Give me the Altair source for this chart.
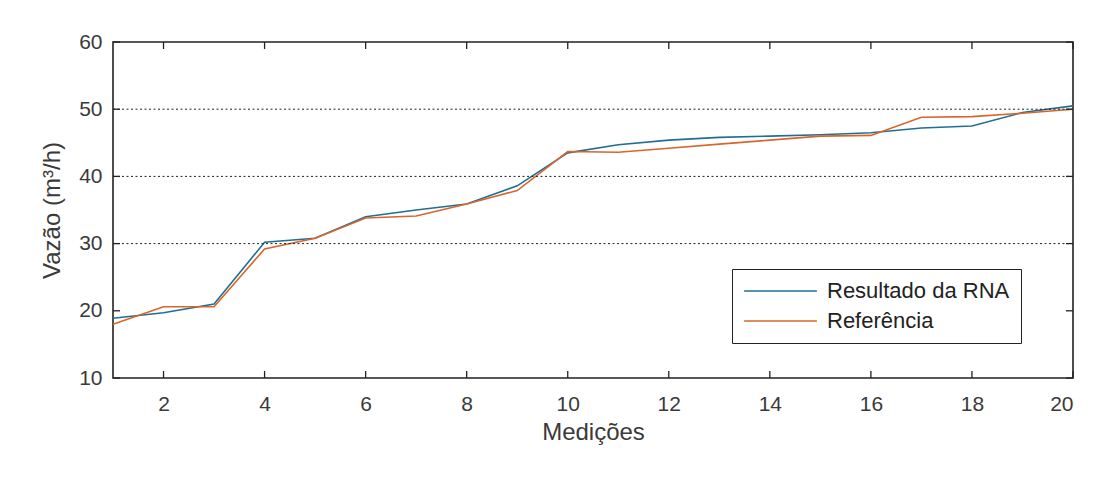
import altair as alt
import pandas as pd

medicoes = list(range(1, 21))
rna = [18.9, 19.7, 21.0, 30.2, 30.8, 34.0, 35.0, 35.9, 38.6, 43.5,
       44.7, 45.4, 45.8, 46.0, 46.2, 46.5, 47.2, 47.5, 49.5, 50.5]
referencia = [18.0, 20.6, 20.6, 29.2, 30.8, 33.8, 34.1, 35.9, 37.9, 43.7,
              43.6, 44.2, 44.8, 45.4, 46.0, 46.1, 48.8, 48.9, 49.4, 50.0]
series_names = ["Resultado da RNA", "Referência"]
series_colors = ["#1f6f94", "#d9652b"]
x_ticks = [2, 4, 6, 8, 10, 12, 14, 16, 18, 20]
y_ticks = [10, 20, 30, 40, 50, 60]
grid_levels = [30, 40, 50]

W, H = 960, 336
FONT = "Liberation Sans"
TXT = "#3a3a3a"

df = pd.DataFrame({
    "x": medicoes * 2,
    "y": rna + referencia,
    "s": [series_names[0]] * 20 + [series_names[1]] * 20,
})

xs = alt.Scale(domain=[1, 20], nice=False, zero=False)
ys = alt.Scale(domain=[10, 60], nice=False, zero=False)

AX = alt.Axis(values=x_ticks, ticks=False, tickSize=0, domain=False, grid=False,
              labelFontSize=21, labelPadding=15, labelColor=TXT,
              labelFont=FONT, titleFont=FONT, titleFontSize=24,
              titleFontWeight="normal", titleColor=TXT, titlePadding=6)
AY = alt.Axis(values=y_ticks, ticks=False, tickSize=0, domain=False, grid=False,
              labelFontSize=21, labelPadding=11, labelColor=TXT,
              labelFont=FONT, titleFont=FONT, titleFontSize=24,
              titleFontWeight="normal", titleColor=TXT, titlePadding=14)
XT = "Medições"
YT = "Vazão (m³/h)"

lines = alt.Chart(df).mark_line(strokeWidth=1.6).encode(
    x=alt.X("x:Q", scale=xs, title=XT, axis=AX),
    y=alt.Y("y:Q", scale=ys, title=YT, axis=AY),
    color=alt.Color("s:N", scale=alt.Scale(domain=series_names, range=series_colors),
                    sort=series_names, title=None,
                    legend=alt.Legend(orient="none", legendX=619, legendY=227,
                                      symbolType="stroke", symbolSize=5300,
                                      symbolStrokeWidth=1.6, clipHeight=22,
                                      labelFontSize=22, labelFont=FONT, labelColor="#222",
                                      strokeColor="#222", fillColor="white",
                                      padding=11, rowPadding=8, labelOffset=9,
                                      labelLimit=400)),
)

grid = alt.Chart(pd.DataFrame({"y": grid_levels})).mark_rule(
    color="#222", strokeWidth=1, strokeDash=[2, 2.5]
).encode(y=alt.Y("y:Q", scale=ys, title=YT, axis=AY), x=alt.value(0), x2=alt.value(W))

tx = pd.DataFrame({"x": x_ticks})
ty = pd.DataFrame({"y": y_ticks})
tick_bottom = alt.Chart(tx).mark_rule(color="#222", strokeWidth=1.3).encode(
    x=alt.X("x:Q", scale=xs, title=XT, axis=AX), y=alt.value(H), y2=alt.value(H - 7))
tick_top = alt.Chart(tx).mark_rule(color="#222", strokeWidth=1.3).encode(
    x=alt.X("x:Q", scale=xs, title=XT, axis=AX), y=alt.value(0), y2=alt.value(7))
tick_left = alt.Chart(ty).mark_rule(color="#222", strokeWidth=1.3).encode(
    y=alt.Y("y:Q", scale=ys, title=YT, axis=AY), x=alt.value(0), x2=alt.value(7))
tick_right = alt.Chart(ty).mark_rule(color="#222", strokeWidth=1.3).encode(
    y=alt.Y("y:Q", scale=ys, title=YT, axis=AY), x=alt.value(W), x2=alt.value(W - 7))

chart = alt.layer(lines, grid, tick_bottom, tick_top, tick_left, tick_right).properties(
    width=W, height=H,
    background="white",
    autosize=alt.AutoSizeParams(type="none"),
    padding={"left": 105, "top": 34, "right": 19, "bottom": 70},
).configure_view(stroke="#222", strokeWidth=1.6)

chart.save("out.html", embed_options={"renderer": "svg", "actions": False})
